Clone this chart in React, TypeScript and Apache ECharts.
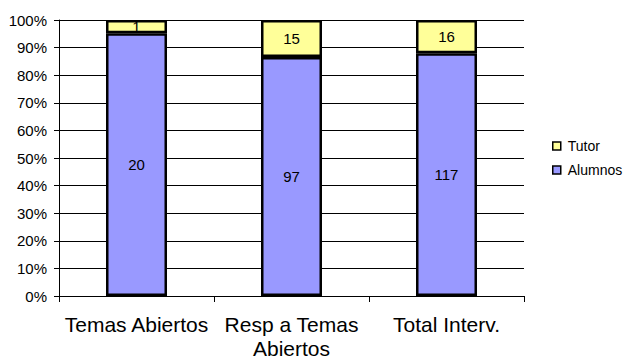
import React, { useEffect, useRef } from "react";
import * as echarts from "echarts";

// Interventions per category, split by who wrote them
const categories = ["Temas Abiertos", "Resp a Temas\nAbiertos", "Total Interv."];
const alumnos = [20, 97, 117];
const tutor = [1, 15, 16];
const yTicks = [0, 10, 20, 30, 40, 50, 60, 70, 80, 90, 100];

const FONT = "Arial, 'Liberation Sans', sans-serif";

// Share of each group within its category (100% stacked)
const totals = alumnos.map((a, i) => a + tutor[i]);
const alumnosPct = alumnos.map((a, i) => (a / totals[i]) * 100);
const tutorPct = tutor.map((t, i) => (t / totals[i]) * 100);

export default function App() {
  const ref = useRef<HTMLDivElement>(null);

  useEffect(() => {
    if (!ref.current) return;
    const chart = echarts.init(ref.current, null, { renderer: "svg" });
    const label = (counts: number[]) => ({
      show: true,
      position: "inside" as const,
      color: "#000",
      fontSize: 15,
      fontFamily: FONT,
      formatter: (p: any) => String(counts[p.dataIndex]),
    });
    chart.setOption({
      animation: false,
      backgroundColor: "#fff",
      textStyle: { fontFamily: FONT, color: "#000" },
      // whole-pixel plot box keeps the bar outlines crisp
      grid: { left: 59, right: 101, top: 20, bottom: 64, containLabel: false },
      legend: {
        orient: "vertical",
        left: 552,
        top: 138,
        padding: 0,
        itemWidth: 8,
        itemHeight: 8,
        itemGap: 8,
        icon: "rect",
        data: ["Tutor", "Alumnos"],
        itemStyle: { borderWidth: 1.5, borderColor: "#000" },
        textStyle: { fontSize: 14, fontFamily: FONT, color: "#000", lineHeight: 16, padding: [0, 0, 0, 2] },
      },
      xAxis: {
        type: "category",
        data: categories,
        axisLine: { show: true, lineStyle: { color: "#000", width: 1 } },
        axisTick: { show: true, length: 6, lineStyle: { color: "#000" } },
        axisLabel: { fontSize: 21, fontFamily: FONT, color: "#000", margin: 16, lineHeight: 24, interval: 0 },
      },
      yAxis: {
        type: "value",
        min: yTicks[0],
        max: yTicks[yTicks.length - 1],
        interval: 10,
        axisLine: { show: true, lineStyle: { color: "#000", width: 1 } },
        axisTick: { show: true, length: 5, lineStyle: { color: "#000" } },
        axisLabel: { fontSize: 15, fontFamily: FONT, color: "#000", margin: 12, formatter: "{value}%" },
        splitLine: { show: true, lineStyle: { color: "#000", width: 1 } },
      },
      series: [
        {
          name: "Alumnos",
          type: "bar",
          stack: "total",
          barWidth: 61,
          data: alumnosPct,
          itemStyle: { color: "#9999FF", borderColor: "#000", borderWidth: 2.5 },
          label: label(alumnos),
        },
        {
          name: "Tutor",
          type: "bar",
          stack: "total",
          barWidth: 61,
          data: tutorPct,
          itemStyle: { color: "#FFFF99", borderColor: "#000", borderWidth: 2.5 },
          label: label(tutor),
        },
      ],
    });
    return () => chart.dispose();
  }, []);

  return (
    <div
      ref={ref}
      style={{ position: "absolute", left: 0, top: 0, width: 625, height: 360, background: "#fff" }}
    />
  );
}
